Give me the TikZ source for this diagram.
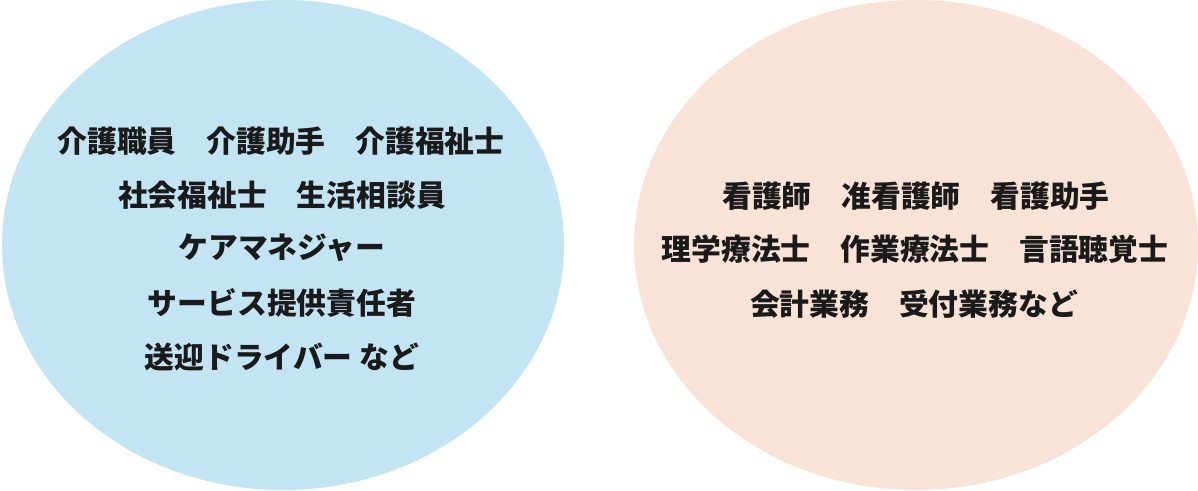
\documentclass[tikz,border=0pt]{standalone}
\usepackage{fontspec}
\newfontfamily\jp{Noto Sans CJK JP}
\definecolor{ovblue}{RGB}{194,228,243}
\definecolor{ovpeach}{RGB}{249,227,215}
\definecolor{txt}{RGB}{26,26,26}
\begin{document}
\begin{tikzpicture}[x=1pt,y=-1pt,
  oval/.style={ellipse, draw=none, inner sep=0pt},
  lbl/.style={font=\jp\bfseries\fontsize{29.8}{36}\selectfont, text=txt, inner sep=0pt, anchor=center}]
\useasboundingbox (0,0) rectangle (1198,490);
\fill[ovblue] (283,245) ellipse [x radius=281, y radius=245];
\fill[ovpeach] (916,245) ellipse [x radius=282, y radius=245];
\node[lbl] (l1) at (281,141.5) {介護職員　介護助手　介護福祉士};
\node[lbl] (l2) at (282,195) {社会福祉士　生活相談員};
\node[lbl] (l3) at (282,248) {ケアマネジャー};
\node[lbl] (l4) at (282,302.5) {サービス提供責任者};
\node[lbl] (l5) at (282,357) {送迎ドライバー など};
\node[lbl] (r1) at (916,196.5) {看護師　准看護師　看護助手};
\node[lbl] (r2) at (915,249.5) {理学療法士　作業療法士　言語聴覚士};
\node[lbl] (r3) at (914,304.5) {会計業務　受付業務など};
\end{tikzpicture}
\end{document}
